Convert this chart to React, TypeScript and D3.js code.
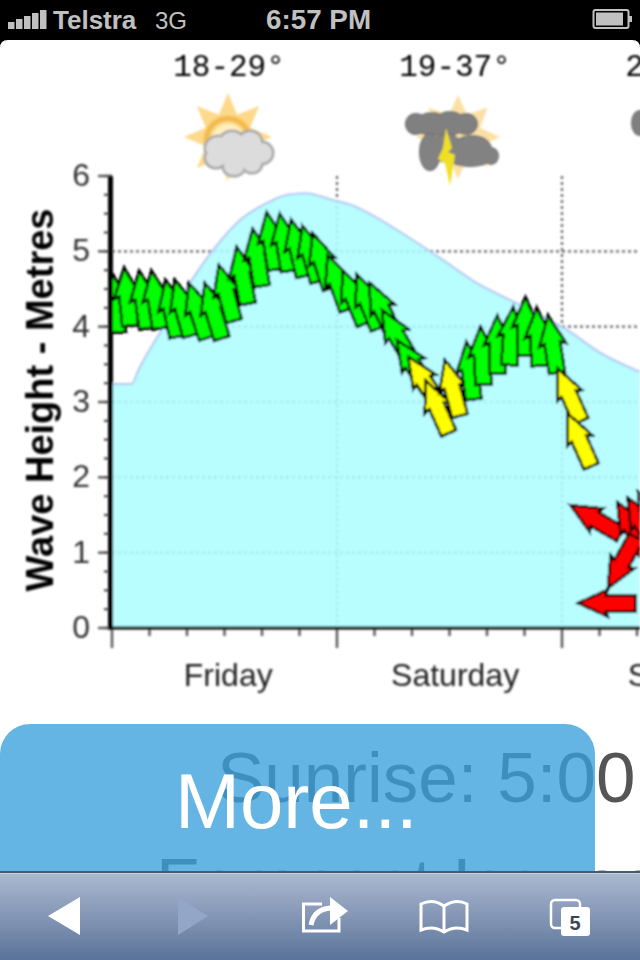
import React from "react";
import * as d3 from "d3";

const W = 640;
const H = 960;

const swellHours = [0, 2.1, 2.8, 5.1, 8.3, 10.8, 13.7, 16.5, 18.7, 20.6, 23.6, 25.4, 30.7, 35, 39.3, 43.2, 48.5, 52, 56.3];
const swellHeights = [3.24, 3.24, 3.42, 3.92, 4.58, 5.02, 5.42, 5.64, 5.75, 5.77, 5.68, 5.62, 5.26, 4.91, 4.55, 4.31, 3.96, 3.66, 3.4];

const arrowHours = [0.1, 1.3, 2.9, 4.2, 5.7, 6.7, 8.2, 9.9, 11.4, 13.3, 15.0, 16.5, 17.9, 19.1, 20.3, 21.4, 23.0, 24.6, 26.1, 27.5, 28.8, 30.4, 31.6, 33.4, 35.5, 37.8, 39.3, 41.1, 42.8, 44.1, 45.3, 46.5, 47.5, 48.6, 48.9, 53.9, 55.0, 56.1, 52.9, 49.7];
const arrowHeights = [4.69, 4.78, 4.74, 4.74, 4.62, 4.62, 4.58, 4.58, 4.82, 5.06, 5.30, 5.52, 5.50, 5.42, 5.34, 5.24, 4.95, 4.75, 4.69, 4.58, 4.22, 3.82, 3.60, 3.29, 3.56, 3.80, 4.00, 4.15, 4.26, 4.39, 4.25, 4.15, 3.45, 2.85, 1.63, 1.67, 1.73, 1.81, 0.53, 0.33];
const arrowDirections = [-5, -6, -8, -9, -12, -16, -18, -17, -15, -11, -9, -9, -9, -13, -16, -18, -20, -22, -22, -25, -30, -33, -33, -24, -15, -7, -3, 0, 4, 0, -3, -9, -24, -24, -60, -30, -30, -30, 209, -90];
const arrowClasses = [0, 0, 0, 0, 0, 0, 0, 0, 0, 0, 0, 0, 0, 0, 0, 0, 0, 0, 0, 0, 0, 0, 1, 1, 1, 0, 0, 0, 0, 0, 0, 0, 1, 1, 2, 2, 2, 2, 2, 2];
const classColors = ["#00ff00", "#ffff00", "#ff0000"];

const yTicks = [0, 1, 2, 3, 4, 5, 6];
const yMinorTicks = d3.range(0, 6.01, 0.25);
const xMajorTicks = [0, 24, 48];
const xMinorTicks = [4, 8, 12, 16, 20, 28, 32, 36, 40, 44, 52, 56];
const dayNames = ["Friday", "Saturday", "Sunday"];
const dayCentres = [12.4, 36.6, 60.8];
const tempLabels = ["18-29°", "19-37°", "21-30°"];
const tempCentres = [229, 455, 681];

const x = d3.scaleLinear().domain([0, 48]).range([112, 562]);
const y = d3.scaleLinear().domain([0, 6]).range([628, 176]);

const swellPts: [number, number][] = swellHours.map((h, i) => [h, swellHeights[i]]);
const areaGen = d3.area<[number, number]>().x((d) => x(d[0])).y0(y(0)).y1((d) => y(d[1])).curve(d3.curveMonotoneX);
const lineGen = d3.line<[number, number]>().x((d) => x(d[0])).y((d) => y(d[1])).curve(d3.curveMonotoneX);

const ARROW = "M0,0 L13.5,30 L8,28 L8,58 L-8,58 L-8,28 L-13.5,30 Z";
const SANS = "'Liberation Sans', Arial, sans-serif";

function rays(cx: number, cy: number, r: number, inner: number) {
  const pts: string[] = [];
  for (let i = 0; i < 16; i++) {
    const a = (i * Math.PI) / 8;
    const rad = i % 2 === 0 ? r : inner;
    pts.push(`${cx + rad * Math.sin(a)},${cy - rad * Math.cos(a)}`);
  }
  return pts.join(" ");
}

function Cloud({ blobs, fill, edge, w }: { blobs: number[][]; fill: string; edge: string; w: number }) {
  return (
    <g>
      {blobs.map((b, i) => (
        <ellipse key={"e" + i} cx={b[0]} cy={b[1]} rx={b[2] + w} ry={b[3] + w} fill={edge} />
      ))}
      {blobs.map((b, i) => (
        <ellipse key={"f" + i} cx={b[0]} cy={b[1]} rx={b[2]} ry={b[3]} fill={fill} />
      ))}
    </g>
  );
}

const cloudLight = [
  [219, 148, 13, 11],
  [232, 141, 11, 9],
  [250, 142, 11, 10],
  [262, 153, 10, 10],
  [252, 164, 9, 8],
  [234, 167, 10, 8],
  [216, 158, 10, 9],
  [238, 154, 24, 13],
];
const cloudDarkTop = [
  [416, 124, 10, 10],
  [432, 119, 12, 6],
  [450, 119, 12, 7],
  [466, 124, 11, 10],
  [440, 126, 30, 9],
];
const cloudDarkLow = [
  [430, 152, 10, 18],
  [447, 148, 14, 14],
  [472, 149, 19, 13],
  [491, 156, 7, 8],
  [470, 155, 24, 11],
];

export default function App() {
  return (
    <svg width={W} height={H} viewBox={`0 0 ${W} ${H}`} style={{ position: "absolute", left: 0, top: 0, display: "block" }}>
      <defs>
        <clipPath id="plot">
          <rect x={112} y={170} width={528} height={458} />
        </clipPath>
        <filter id="soft" x="-5%" y="-5%" width="110%" height="110%">
          <feGaussianBlur stdDeviation={0.9} />
        </filter>
        <filter id="soft2" x="-10%" y="-10%" width="120%" height="120%">
          <feGaussianBlur stdDeviation={1.1} />
        </filter>
        <linearGradient id="bar" x1="0" y1="0" x2="0" y2="1">
          <stop offset="0" stopColor="#abb9d0" />
          <stop offset="0.5" stopColor="#8496b5" />
          <stop offset="1" stopColor="#5a7399" />
        </linearGradient>
        <radialGradient id="sun" cx="0.5" cy="0.5" r="0.5">
          <stop offset="0.6" stopColor="#fff0c0" />
          <stop offset="0.85" stopColor="#f3b23a" />
          <stop offset="1" stopColor="#f8cf76" />
        </radialGradient>
      </defs>

      <rect width={W} height={H} fill="#000" />
      <path d={`M0,48 Q0,40 8,40 H632 Q640,40 640,48 V${H} H0 Z`} fill="#fff" />

      {/* status bar */}
      <g fill="#c0c0c0" fontFamily={SANS}>
        {[0, 1, 2, 3, 4].map((i) => (
          <rect key={i} x={8 + i * 8} y={22 - i * 3} width={6.5} height={7 + i * 3} />
        ))}
        <text x={53} y={29} fontSize={26} fontWeight={700}>Telstra</text>
        <text x={155} y={29} fontSize={24}>3G</text>
        <text x={266} y={29} fontSize={27.8} fontWeight={700}>6:57 PM</text>
        <rect x={593.5} y={10} width={35} height={18} rx={2} fill="none" stroke="#c0c0c0" strokeWidth={2} />
        <rect x={596} y={12.5} width={27} height={13} />
        <rect x={629} y={16} width={3} height={6} />
      </g>

      {/* forecast header */}
      <g filter="url(#soft)" fontFamily="'Liberation Mono', monospace" fontSize={31} fill="#000" textAnchor="middle">
        {tempLabels.map((t, i) => (
          <text key={t} x={tempCentres[i]} y={76}>{t}</text>
        ))}
      </g>

      {/* weather icons */}
      <g filter="url(#soft2)">
        <polygon points={rays(228, 137, 44, 24)} fill="#fdd98a" />
        <circle cx={228} cy={140} r={25} fill="url(#sun)" />
        <Cloud blobs={cloudLight} fill="#dcdcdc" edge="#a8a8a8" w={2.5} />

        <polygon points={rays(458, 137, 42, 24)} fill="#fbe0a6" />
        <Cloud blobs={cloudDarkTop} fill="#808080" edge="#6e6e6e" w={1} />
        <Cloud blobs={cloudDarkLow} fill="#828282" edge="#6e6e6e" w={1} />
        <polygon points="446,128 452,148 448,152 455,155 450,186 445,163 438,159 443,148" fill="#f0e020" />

        <polygon points={rays(684, 137, 42, 24)} fill="#fbe0a6" />
        <Cloud blobs={[[640, 123, 8, 12]]} fill="#808080" edge="#6e6e6e" w={1} />
      </g>

      {/* chart */}
      <g filter="url(#soft)">
        <g stroke="#666" strokeWidth={2.2} strokeDasharray="3 3">
          {yTicks.filter((t) => t > 0 && t < 6).map((t) => (
            <line key={t} x1={x(0)} x2={W} y1={y(t)} y2={y(t)} />
          ))}
          {xMajorTicks.filter((t) => t > 0).map((t) => (
            <line key={t} x1={x(t)} x2={x(t)} y1={y(6)} y2={y(0)} />
          ))}
        </g>
        <g clipPath="url(#plot)">
          <path d={areaGen(swellPts) ?? ""} fill="#aefdff" fillOpacity={0.88} />
          <path d={lineGen(swellPts) ?? ""} fill="none" stroke="#b4c6f2" strokeWidth={2} />
          {arrowHours.map((h, i) => (
            <path
              key={i}
              d={ARROW}
              transform={`translate(${x(h)},${y(arrowHeights[i])}) rotate(${arrowDirections[i]})`}
              fill={classColors[arrowClasses[i]]}
              stroke="#000"
              strokeWidth={3}
              strokeLinejoin="miter"
              shapeRendering="crispEdges"
            />
          ))}
        </g>

        {/* axes */}
        <g stroke="#555" strokeWidth={2.4}>
          {yMinorTicks.map((t) => (
            <line key={t} x1={104} x2={112} y1={y(t)} y2={y(t)} />
          ))}
          {yTicks.map((t) => (
            <line key={t} x1={98} x2={112} y1={y(t)} y2={y(t)} />
          ))}
          {xMinorTicks.map((t) => (
            <line key={t} x1={x(t)} x2={x(t)} y1={y(0)} y2={636} />
          ))}
          {xMajorTicks.map((t) => (
            <line key={t} x1={x(t)} x2={x(t)} y1={y(0)} y2={648} />
          ))}
        </g>
        <line x1={108} x2={W} y1={628} y2={628} stroke="#000" strokeWidth={3} />
        <line x1={110.5} x2={110.5} y1={176} y2={629.5} stroke="#000" strokeWidth={5} />

        <g fontFamily={SANS} fontSize={32} fill="#333" textAnchor="end">
          {yTicks.map((t) => (
            <text key={t} x={90} y={y(t) + 10}>{t}</text>
          ))}
        </g>
        <g fontFamily={SANS} fontSize={32} fill="#222" textAnchor="middle">
          {dayNames.map((d, i) => (
            <text key={d} x={x(dayCentres[i])} y={686}>{d}</text>
          ))}
        </g>
        <text
          transform="translate(53,400) rotate(-90)"
          textAnchor="middle"
          fontFamily={SANS}
          fontWeight={700}
          fontSize={38}
          fill="#000"
        >
          Wave Height - Metres
        </text>
      </g>

      {/* page text and button */}
      <g fontFamily={SANS} fontSize={71} fill="#555">
        <text x={217} y={802}>Sunrise: 5:00</text>
        <text x={156} y={908}>Forecast Issued</text>
      </g>
      <rect x={0} y={724} width={595} height={280} rx={30} fill="rgb(56,160,219)" fillOpacity={0.78} />
      <text x={175} y={828} fontFamily={SANS} fontSize={78} fill="#fff">More...</text>

      {/* browser toolbar */}
      <rect x={0} y={873} width={W} height={87} fill="url(#bar)" />
      <rect x={0} y={871} width={W} height={2} fill="#4c5a6e" />
      <rect x={0} y={873} width={W} height={1} fill="#c6d0e0" />
      <polygon points="48,916 80,897 80,935" fill="#fff" />
      <polygon points="178,897 208,916 178,935" fill="#93a6c8" />
      <g fill="none" stroke="#fff" strokeWidth={3}>
        <path d="M322,904 H303.5 V931 H339 V918" />
        <path d="M311,925 Q314,909 331,908" strokeWidth={5} />
      </g>
      <polygon points="330,897 348,911 330,925" fill="#fff" />
      <g fill="none" stroke="#fff" strokeWidth={3}>
        <path d="M421,930 V904 Q433,898 444,906 Q456,898 467,904 V930 Q455,925 444,932 Q433,925 421,930 Z" />
        <path d="M444,906 V932" />
      </g>
      <rect x={551} y={900} width={29} height={28} rx={4} fill="none" stroke="#fff" strokeWidth={2.5} />
      <rect x={561} y={907} width={29} height={29} rx={3} fill="#fff" />
      <text x={575} y={930} fontFamily={SANS} fontSize={20} fontWeight={700} fill="#3a4658" textAnchor="middle">5</text>
    </svg>
  );
}
